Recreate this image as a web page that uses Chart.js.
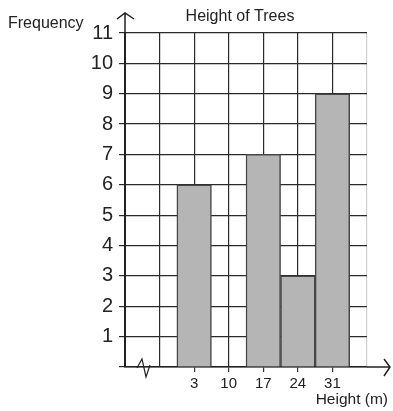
<!DOCTYPE html>
<html>
<head>
<meta charset="utf-8">
<script src="https://cdn.jsdelivr.net/npm/chart.js@4"></script>
<style>
  body { margin: 0; background: #fff; }
  canvas { display: block; }
</style>
</head>
<body>
<canvas id="chart" width="393" height="411"></canvas>
<script>
// histogram data: class midpoints and frequencies
const heightLabels = ['', '', '3', '10', '17', '24', '31', ''];
const frequencies = [null, null, 6, 0, 7, 3, 9, null];
const yMax = 11;

const FONT = "'Liberation Sans', Arial, sans-serif";
const INK = '#222';

// axis arrows, axis break and free-standing labels
const decorations = {
  id: 'decorations',
  afterDraw(chart) {
    const c = chart.ctx;
    const a = chart.chartArea;
    c.save();
    c.strokeStyle = INK;
    c.lineWidth = 1.5;
    // y axis up to arrow
    c.beginPath();
    c.moveTo(a.left, a.top);
    c.lineTo(a.left, 13);
    c.moveTo(a.left - 8, 19);
    c.lineTo(a.left, 13);
    c.lineTo(a.left + 9, 19);
    // x axis out to arrow
    c.moveTo(a.right, a.bottom);
    c.lineTo(390, a.bottom);
    c.moveTo(384, a.bottom - 8);
    c.lineTo(390, a.bottom);
    c.lineTo(384, a.bottom + 9);
    c.stroke();
    // axis break zigzag
    c.lineWidth = 1.2;
    c.beginPath();
    c.moveTo(137, a.bottom + 1);
    c.lineTo(142, a.bottom - 8);
    c.lineTo(146, a.bottom + 10);
    c.lineTo(150, a.bottom - 2);
    c.stroke();

    c.fillStyle = INK;
    c.textBaseline = 'middle';
    c.font = '16px ' + FONT;
    c.textAlign = 'left';
    c.fillText('Frequency', 8, 24);
    c.textAlign = 'center';
    c.fillText('Height of Trees', 240, 17);
    c.textAlign = 'right';
    c.font = '15.5px ' + FONT;
    c.fillText('Height (m)', 388, 400);
    c.restore();
  }
};

new Chart(document.getElementById('chart'), {
  type: 'bar',
  data: {
    labels: heightLabels,
    datasets: [{
      data: frequencies,
      backgroundColor: '#b5b5b5',
      borderColor: '#474747',
      borderWidth: 1.5,
      barPercentage: 1,
      categoryPercentage: 1
    }]
  },
  options: {
    responsive: false,
    animation: false,
    layout: { padding: { top: 33, right: 26, left: 0, bottom: 0 } },
    plugins: {
      legend: { display: false },
      tooltip: { enabled: false },
      title: { display: false }
    },
    scales: {
      x: {
        offset: false,
        afterFit: s => { s.height = 44; },
        grid: {
          offset: false,
          color: ctx => ctx.index === heightLabels.length - 1 ? '#cfcfcf' : '#2a2a2a',
          tickColor: ctx => (ctx.tick && ctx.tick.label) ? '#333' : 'rgba(0,0,0,0)',
          tickLength: 5,
          lineWidth: 1.2
        },
        border: { color: INK, width: 1.5 },
        ticks: {
          color: INK,
          font: { family: FONT, size: 15 },
          padding: 3,
          maxRotation: 0,
          autoSkip: false
        }
      },
      y: {
        min: 0,
        max: yMax,
        afterFit: s => { s.width = 125; },
        grid: { color: '#2a2a2a', tickLength: 6, lineWidth: 1.2 },
        border: { color: INK, width: 2 },
        ticks: {
          stepSize: 1,
          color: INK,
          font: { family: FONT, size: 20 },
          padding: 6,
          callback: v => v === 0 ? '' : v
        }
      }
    }
  },
  plugins: [decorations]
});
</script>
</body>
</html>
